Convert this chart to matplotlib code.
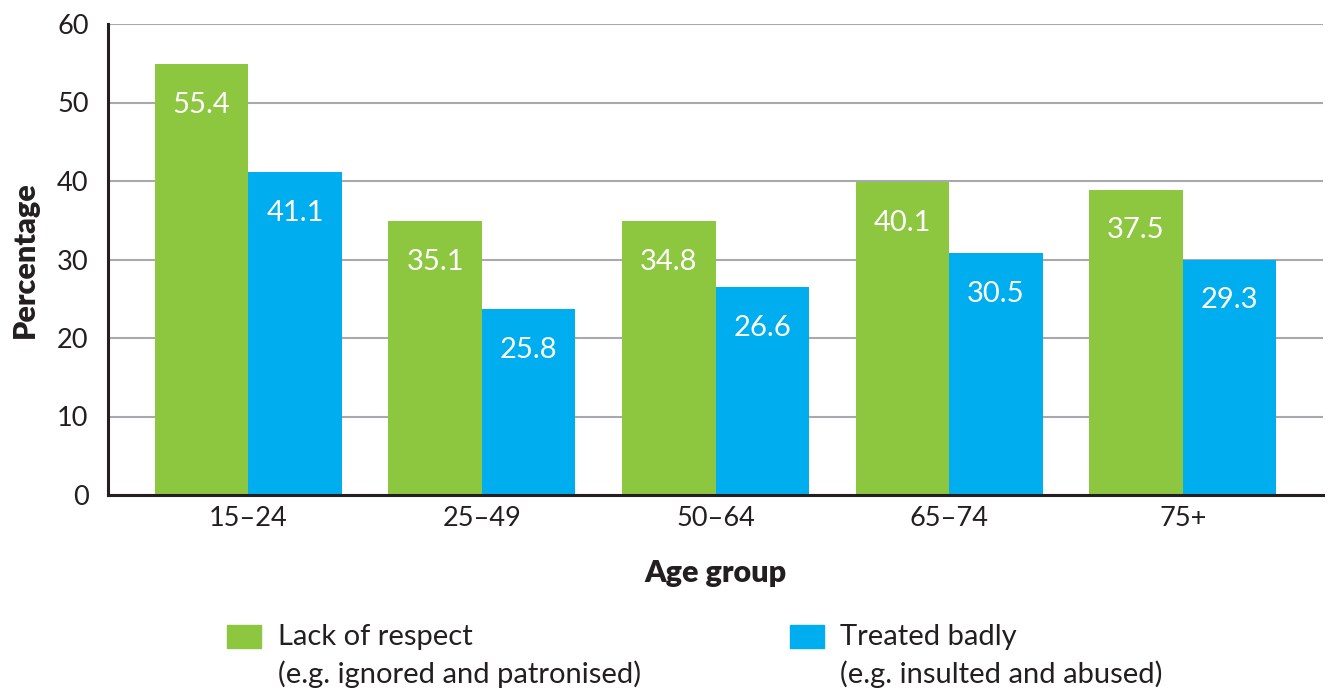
import matplotlib
matplotlib.use("Agg")
import matplotlib.pyplot as plt
from matplotlib.patches import Rectangle
import numpy as np

plt.rcParams["font.family"] = ["Lato", "DejaVu Sans"]

age_groups = ["15\u201324", "25\u201349", "50\u201364", "65\u201374", "75+"]
# bar heights as drawn in the source chart
lack_heights = [54.9, 34.9, 34.9, 39.9, 38.9]
badly_heights = [41.1, 23.7, 26.5, 30.8, 30.0]
# printed value labels
lack_labels = ["55.4", "35.1", "34.8", "40.1", "37.5"]
badly_labels = ["41.1", "25.8", "26.6", "30.5", "29.3"]
series_names = ["Lack of respect\n(e.g. ignored and patronised)",
                "Treated badly\n(e.g. insulted and abused)"]

GREEN = "#8DC63F"
BLUE = "#00AEEF"
DARK = "#231F20"

fig = plt.figure(figsize=(13.29, 6.93), dpi=100)
ax = fig.add_axes([108 / 1329, 1 - 495 / 693, (1323 - 108) / 1329, (495 - 24) / 693])

x = np.arange(len(age_groups))
w = 0.4
b1 = ax.bar(x - w / 2, lack_heights, w, color=GREEN, zorder=3)
b2 = ax.bar(x + w / 2, badly_heights, w, color=BLUE, zorder=3)

for bars, labels in ((b1, lack_labels), (b2, badly_labels)):
    for rect, lab in zip(bars, labels):
        ax.text(rect.get_x() + rect.get_width() / 2, rect.get_height() - 5.2, lab,
                ha="center", va="center", color="white", fontsize=21, zorder=4)

ax.set_xlim(-0.6, 4.6)
ax.set_ylim(0, 60)
ax.set_yticks(range(0, 61, 10))
ax.set_xticks(x)
ax.set_xticklabels(age_groups)
ax.tick_params(length=0, labelsize=19.5, colors=DARK, pad=8)
ax.tick_params(axis="y", pad=14)
ax.yaxis.grid(True, color="#A7A9AC", lw=1.5, zorder=0)
ax.set_axisbelow(True)
for s in ("top", "right"):
    ax.spines[s].set_visible(False)
for s in ("left", "bottom"):
    ax.spines[s].set_color(DARK)
    ax.spines[s].set_linewidth(2.2)
    ax.spines[s].set_zorder(5)

fig.text(25 / 1329, 1 - 260 / 693, "Percentage", rotation=90, ha="center", va="center",
         fontsize=22, fontweight="heavy", color=DARK)
fig.text(716 / 1329, 1 - 573 / 693, "Age group", ha="center", va="center",
         fontsize=22, fontweight="heavy", color=DARK)

# legend
for (sx, tx), col, name in zip(((227, 278), (790, 840)), (GREEN, BLUE), series_names):
    fig.patches.append(Rectangle((sx / 1329, 1 - 648 / 693), 34 / 1329, 23 / 693,
                                 transform=fig.transFigure, color=col))
    fig.text(tx / 1329, 1 - 624 / 693, name, ha="left", va="top", fontsize=21,
             color=DARK, linespacing=1.48)

fig.savefig("out.png", dpi=100)
